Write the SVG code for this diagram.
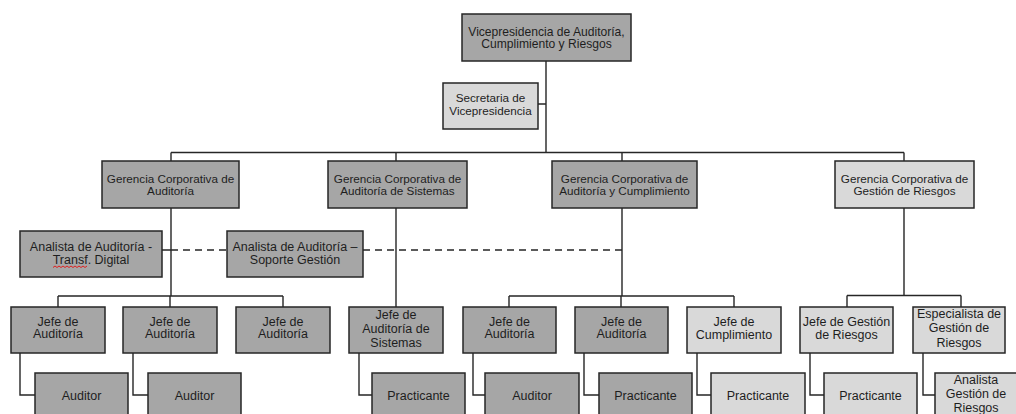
<svg xmlns="http://www.w3.org/2000/svg" width="1016" height="414" viewBox="0 0 1016 414">
<style>
.d{fill:#a6a6a6;stroke:#262626;stroke-width:1.5}
.l{fill:#d9d9d9;stroke:#262626;stroke-width:1.5}
.u{font-family:"Liberation Sans",Arial,sans-serif;font-size:11.7px;fill:#1e1e1e;text-anchor:middle}
.v{font-size:12.1px}
.t{font-family:"Liberation Sans",Arial,sans-serif;font-size:12.5px;fill:#1e1e1e;text-anchor:middle}
.c{fill:none;stroke:#262626;stroke-width:1.4}
.dash{fill:none;stroke:#262626;stroke-width:1.4;stroke-dasharray:7 5}
</style>
<rect width="1016" height="414" fill="#ffffff"/>
<g id="connectors">
<path class="c" d="M546 61V152.5M538 104H546M171 152.5H904M171 152.5V161M396 152.5V161M622 152.5V161M904 152.5V161"/>
<path class="c" d="M171 208V296M58 296H283M58 296V307M170 296V307M283 296V307M162 250H171"/>
<path class="dash" d="M171 250H227M363 250H622"/>
<path class="c" d="M396 208V307"/>
<path class="c" d="M622 208V296M509 296H734M509 296V307M621 296V307M734 296V307"/>
<path class="c" d="M904 208V295.5M847 295.5H961M847 295.5V307M961 295.5V307"/>
<path class="c" d="M20 353V395H35M133 353V395H148M359 353V395H372M473 353V395H485M584 353V395H599M697 353V395H711M810 353V395H824M923 353V395H935"/>
</g>
<g id="vp"><rect class="d" x="462" y="14" width="169" height="47"/><text class="u v" x="546.5" y="35.5">Vicepresidencia de Auditoría,</text><text class="u v" x="546.5" y="48">Cumplimiento y Riesgos</text></g>
<g id="secretaria"><rect class="l" x="443" y="83" width="95" height="46"/><text class="u" x="490.5" y="102">Secretaria de</text><text class="u" x="490.5" y="115">Vicepresidencia</text></g>
<g id="gc-auditoria"><rect class="d" x="102" y="161" width="137" height="47"/><text class="u" x="170.5" y="182.5">Gerencia Corporativa de</text><text class="u" x="170.5" y="195">Auditoría</text></g>
<g id="gc-sistemas"><rect class="d" x="328" y="161" width="139" height="47"/><text class="u" x="397.5" y="182.5">Gerencia Corporativa de</text><text class="u" x="397.5" y="195">Auditoría de Sistemas</text></g>
<g id="gc-cumplimiento"><rect class="d" x="552" y="161" width="145" height="47"/><text class="u" x="624.5" y="182.5">Gerencia Corporativa de</text><text class="u" x="624.5" y="195">Auditoría y Cumplimiento</text></g>
<g id="gc-riesgos"><rect class="l" x="835" y="161" width="139" height="47"/><text class="u" x="904.5" y="182.5">Gerencia Corporativa de</text><text class="u" x="904.5" y="195">Gestión de Riesgos</text></g>
<g id="analista-td"><rect class="d" x="20" y="231" width="142" height="46"/><text class="t" x="91" y="251">Analista de Auditoría -</text><text class="t" x="91" y="264">Transf. Digital</text><path d="M53 267.5l2 -1.5l2 1.5l2 -1.5l2 1.5l2 -1.5l2 1.5l2 -1.5l2 1.5l2 -1.5l2 1.5l2 -1.5l2 1.5l2 -1.5l2 1.5l2 -1.5l2 1.5l2 -1.5" fill="none" stroke="#e02020" stroke-width="1"/></g>
<g id="analista-sg"><rect class="d" x="227" y="231" width="136" height="46"/><text class="t" x="295" y="251">Analista de Auditoría –</text><text class="t" x="295" y="264">Soporte Gestión</text></g>
<g id="jefe-aud-1"><rect class="d" x="11" y="307" width="94" height="46"/><text class="t" x="58" y="326">Jefe de</text><text class="t" x="58" y="338">Auditoría</text></g>
<g id="jefe-aud-2"><rect class="d" x="123" y="307" width="94" height="46"/><text class="t" x="170" y="326">Jefe de</text><text class="t" x="170" y="338">Auditoría</text></g>
<g id="jefe-aud-3"><rect class="d" x="236" y="307" width="94" height="46"/><text class="t" x="283" y="326">Jefe de</text><text class="t" x="283" y="338">Auditoría</text></g>
<g id="jefe-sistemas"><rect class="d" x="349" y="307" width="94" height="46"/><text class="t" x="396" y="318.5">Jefe de</text><text class="t" x="396" y="332.5">Auditoría de</text><text class="t" x="396" y="347">Sistemas</text></g>
<g id="jefe-aud-4"><rect class="d" x="463" y="307" width="93" height="46"/><text class="t" x="509.5" y="326">Jefe de</text><text class="t" x="509.5" y="338">Auditoría</text></g>
<g id="jefe-aud-5"><rect class="d" x="575" y="307" width="93" height="46"/><text class="t" x="621.5" y="326">Jefe de</text><text class="t" x="621.5" y="338">Auditoría</text></g>
<g id="jefe-cumplimiento"><rect class="l" x="687" y="307" width="94" height="46"/><text class="t" x="734" y="326">Jefe de</text><text class="t" x="734" y="339">Cumplimiento</text></g>
<g id="jefe-riesgos"><rect class="l" x="800" y="307" width="93" height="46"/><text class="t" x="846.5" y="326">Jefe de Gestión</text><text class="t" x="846.5" y="338.5">de Riesgos</text></g>
<g id="especialista"><rect class="l" x="913" y="307" width="92" height="46"/><text class="t" x="959" y="317.5">Especialista de</text><text class="t" x="959" y="332">Gestión de</text><text class="t" x="959" y="346.5">Riesgos</text></g>
<g id="auditor-1"><rect class="d" x="35" y="373" width="93" height="48"/><text class="t" x="81.5" y="399.5">Auditor</text></g>
<g id="auditor-2"><rect class="d" x="148" y="373" width="93" height="48"/><text class="t" x="194.5" y="399.5">Auditor</text></g>
<g id="practicante-1"><rect class="d" x="372" y="373" width="93" height="48"/><text class="t" x="418.5" y="399.5">Practicante</text></g>
<g id="auditor-3"><rect class="d" x="485" y="373" width="94" height="48"/><text class="t" x="532" y="399.5">Auditor</text></g>
<g id="practicante-2"><rect class="d" x="599" y="373" width="93" height="48"/><text class="t" x="645.5" y="399.5">Practicante</text></g>
<g id="practicante-3"><rect class="l" x="711" y="373" width="94" height="48"/><text class="t" x="758" y="399.5">Practicante</text></g>
<g id="practicante-4"><rect class="l" x="824" y="373" width="93" height="48"/><text class="t" x="870.5" y="399.5">Practicante</text></g>
<g id="analista-riesgos"><rect class="l" x="935" y="373" width="93" height="48"/><text class="t" x="976" y="383.5">Analista</text><text class="t" x="976" y="397.5">Gestión de</text><text class="t" x="976" y="412">Riesgos</text></g>
</svg>
